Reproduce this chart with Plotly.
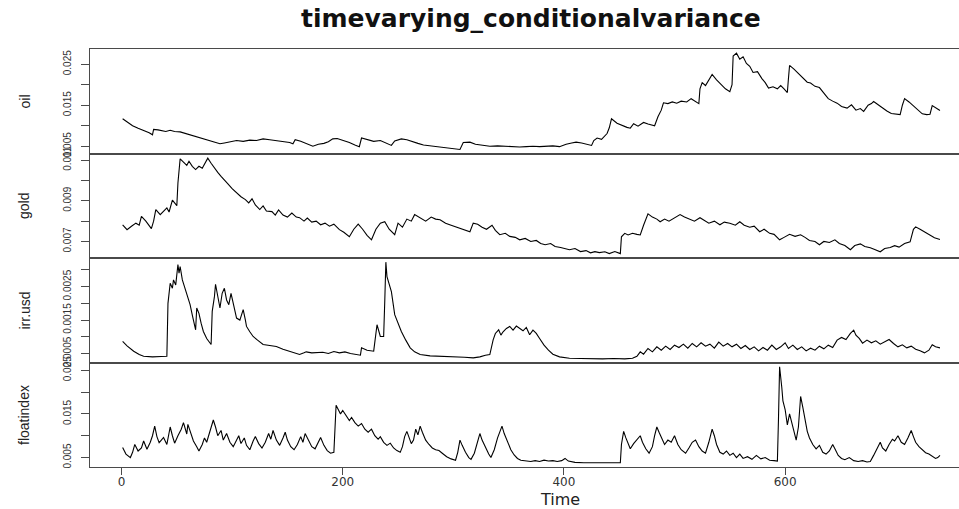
import plotly.graph_objects as go
from plotly.subplots import make_subplots

# ---------------- data (time, value) ----------------
oil = [(1, 0.0117), (5, 0.0110), (10, 0.0100), (15, 0.0094), (20, 0.0089), (25, 0.0083), (28, 0.0078),
       (29, 0.0091), (33, 0.0090), (37, 0.0088), (40, 0.0086), (44, 0.0089), (48, 0.0086), (53, 0.0085),
       (58, 0.0081), (64, 0.0076), (71, 0.0070), (78, 0.0065), (84, 0.0060), (89, 0.0056), (93, 0.0058),
       (97, 0.0060), (101, 0.0061), (104, 0.0064), (110, 0.0062), (116, 0.0065), (122, 0.0064), (128, 0.0068),
       (134, 0.0066), (140, 0.0064), (146, 0.0062), (152, 0.0059), (155, 0.0056), (157, 0.0066), (162, 0.0062),
       (168, 0.0055), (173, 0.0050), (178, 0.0055), (183, 0.0057), (187, 0.0061), (191, 0.0068), (195, 0.0069),
       (200, 0.0065), (206, 0.0059), (211, 0.0053), (215, 0.0049), (217, 0.0070), (222, 0.0067), (228, 0.0062),
       (234, 0.0064), (239, 0.0058), (244, 0.0052), (247, 0.0063), (253, 0.0068), (258, 0.0066), (263, 0.0061),
       (268, 0.0057), (273, 0.0053), (280, 0.0051), (287, 0.0049), (294, 0.0047), (300, 0.0045), (306, 0.0042),
       (309, 0.0059), (315, 0.0060), (320, 0.0055), (326, 0.0053), (333, 0.0050), (340, 0.0051), (347, 0.0050),
       (354, 0.0049), (360, 0.0048), (366, 0.0049), (372, 0.0050), (378, 0.0049), (384, 0.0050), (390, 0.0051),
       (396, 0.0049), (402, 0.0055), (407, 0.0058), (411, 0.0060), (416, 0.0058), (421, 0.0054), (425, 0.0052),
       (427, 0.0064), (430, 0.0070), (434, 0.0067), (439, 0.0081), (441, 0.0095), (443, 0.0117), (448, 0.0106),
       (453, 0.0100), (457, 0.0096), (460, 0.0094), (463, 0.0105), (467, 0.0099), (472, 0.0108), (476, 0.0104),
       (479, 0.0102), (482, 0.0100), (485, 0.0122), (488, 0.0138), (490, 0.0156), (494, 0.0154), (498, 0.0158),
       (502, 0.0155), (506, 0.0160), (511, 0.0158), (515, 0.0166), (518, 0.0160), (522, 0.0154), (523, 0.0190),
       (525, 0.0205), (528, 0.0198), (531, 0.0212), (534, 0.0225), (538, 0.0212), (542, 0.0200), (546, 0.0190),
       (550, 0.0183), (552, 0.0200), (553, 0.0270), (556, 0.0277), (559, 0.0262), (562, 0.0268), (565, 0.0252),
       (568, 0.0245), (571, 0.0230), (575, 0.0232), (579, 0.0215), (582, 0.0205), (585, 0.0192), (589, 0.0195),
       (593, 0.0190), (596, 0.0198), (599, 0.0190), (602, 0.0181), (603, 0.0215), (604, 0.0247), (608, 0.0238),
       (612, 0.0228), (616, 0.0218), (620, 0.0206), (623, 0.0204), (627, 0.0196), (631, 0.0193), (635, 0.0180),
       (639, 0.0166), (643, 0.0160), (647, 0.0155), (651, 0.0147), (656, 0.0143), (660, 0.0151), (664, 0.0138),
       (668, 0.0142), (671, 0.0135), (675, 0.0150), (678, 0.0154), (680, 0.0159), (684, 0.0151), (688, 0.0143),
       (692, 0.0136), (696, 0.0130), (700, 0.0129), (704, 0.0127), (706, 0.0150), (708, 0.0166), (712, 0.0158),
       (716, 0.0148), (720, 0.0138), (724, 0.0129), (728, 0.0127), (731, 0.0128), (733, 0.0149), (735, 0.0145),
       (738, 0.0139), (740, 0.0137)]

gold = [(1, 0.00782), (5, 0.00758), (9, 0.00775), (13, 0.00790), (16, 0.00780), (18, 0.00823), (22, 0.00800),
        (27, 0.00763), (29, 0.00800), (31, 0.00857), (35, 0.00832), (38, 0.00850), (41, 0.00865), (43, 0.00845),
        (46, 0.00903), (50, 0.00876), (51, 0.00988), (53, 0.01107), (56, 0.01090), (59, 0.01075), (61, 0.01095),
        (64, 0.01070), (67, 0.01054), (70, 0.01070), (73, 0.01060), (76, 0.01095), (78, 0.01110), (81, 0.01085),
        (84, 0.01060), (87, 0.01040), (90, 0.01020), (93, 0.01005), (96, 0.00985), (100, 0.00960), (104, 0.00940),
        (108, 0.00920), (112, 0.00906), (115, 0.00890), (118, 0.00910), (121, 0.00880), (125, 0.00857),
        (128, 0.00875), (131, 0.00850), (136, 0.00847), (139, 0.00830), (142, 0.00855), (146, 0.00830),
        (150, 0.00820), (154, 0.00840), (158, 0.00820), (161, 0.00817), (165, 0.00800), (168, 0.00815),
        (172, 0.00795), (176, 0.00800), (180, 0.00782), (184, 0.00790), (188, 0.00775), (192, 0.00785),
        (197, 0.00758), (201, 0.00745), (206, 0.00723), (210, 0.00760), (214, 0.00785), (218, 0.00760),
        (222, 0.00730), (226, 0.00708), (230, 0.00760), (234, 0.00790), (238, 0.00797), (242, 0.00760),
        (247, 0.00733), (250, 0.00790), (254, 0.00770), (258, 0.00810), (262, 0.00800), (265, 0.00832),
        (270, 0.00815), (275, 0.00800), (280, 0.00820), (284, 0.00810), (288, 0.00807), (293, 0.00790),
        (298, 0.00780), (303, 0.00770), (308, 0.00760), (312, 0.00755), (315, 0.00748), (318, 0.00790),
        (322, 0.00785), (326, 0.00770), (330, 0.00760), (335, 0.00780), (338, 0.00755), (342, 0.00733),
        (347, 0.00740), (351, 0.00725), (356, 0.00720), (360, 0.00708), (365, 0.00715), (370, 0.00700),
        (375, 0.00705), (379, 0.00690), (383, 0.00684), (388, 0.00690), (392, 0.00675), (397, 0.00670),
        (401, 0.00665), (405, 0.00659), (410, 0.00665), (415, 0.00650), (420, 0.00655), (424, 0.00644),
        (428, 0.00650), (432, 0.00645), (437, 0.00649), (441, 0.00640), (446, 0.00650), (451, 0.00640),
        (452, 0.00723), (455, 0.00740), (458, 0.00732), (462, 0.00740), (466, 0.00735), (469, 0.00732),
        (472, 0.00780), (476, 0.00836), (480, 0.00820), (484, 0.00810), (487, 0.00797), (491, 0.00810),
        (495, 0.00800), (500, 0.00815), (505, 0.00832), (509, 0.00820), (514, 0.00810), (518, 0.00800),
        (523, 0.00817), (527, 0.00805), (531, 0.00790), (536, 0.00800), (541, 0.00782), (545, 0.00795),
        (550, 0.00790), (555, 0.00780), (559, 0.00797), (563, 0.00780), (568, 0.00770), (572, 0.00775),
        (577, 0.00748), (581, 0.00760), (586, 0.00740), (590, 0.00735), (595, 0.00708), (599, 0.00720),
        (604, 0.00735), (609, 0.00725), (614, 0.00733), (618, 0.00720), (622, 0.00705), (627, 0.00700),
        (631, 0.00684), (635, 0.00700), (640, 0.00695), (645, 0.00708), (649, 0.00690), (654, 0.00680),
        (659, 0.00659), (663, 0.00680), (668, 0.00688), (672, 0.00675), (677, 0.00669), (681, 0.00660),
        (686, 0.00649), (690, 0.00665), (695, 0.00670), (699, 0.00679), (703, 0.00672), (708, 0.00690),
        (713, 0.00698), (716, 0.00760), (718, 0.00772), (722, 0.00760), (727, 0.00743), (731, 0.00730),
        (735, 0.00718), (740, 0.00710)]

irr_usd = [(1, 0.00086), (5, 0.00073), (11, 0.00057), (16, 0.00047), (20, 0.00042), (28, 0.00040), (36, 0.00041),
           (41, 0.00042), (42, 0.00200), (44, 0.00260), (46, 0.00245), (47, 0.00270), (49, 0.00255), (51, 0.00316),
           (52, 0.00290), (53, 0.00310), (55, 0.00270), (57, 0.00250), (59, 0.00225), (62, 0.00196), (64, 0.00165),
           (67, 0.00121), (68, 0.00186), (70, 0.00170), (72, 0.00140), (74, 0.00116), (77, 0.00095), (81, 0.00077),
           (82, 0.00176), (84, 0.00220), (85, 0.00257), (87, 0.00215), (89, 0.00186), (91, 0.00230), (93, 0.00245),
           (95, 0.00210), (97, 0.00196), (99, 0.00230), (101, 0.00200), (104, 0.00156), (107, 0.00150),
           (110, 0.00181), (112, 0.00150), (113, 0.00131), (116, 0.00115), (119, 0.00101), (123, 0.00090),
           (128, 0.00077), (134, 0.00074), (140, 0.00071), (146, 0.00063), (152, 0.00057), (156, 0.00052),
           (161, 0.00047), (165, 0.00052), (167, 0.00055), (172, 0.00052), (177, 0.00054), (182, 0.00054),
           (187, 0.00050), (192, 0.00056), (197, 0.00052), (202, 0.00055), (207, 0.00050), (212, 0.00048),
           (216, 0.00045), (217, 0.00067), (222, 0.00060), (228, 0.00057), (231, 0.00136), (234, 0.00101),
           (237, 0.00101), (238, 0.00205), (239, 0.00323), (240, 0.00280), (242, 0.00260), (244, 0.00235),
           (247, 0.00166), (250, 0.00140), (253, 0.00116), (257, 0.00090), (261, 0.00067), (265, 0.00055),
           (270, 0.00047), (279, 0.00043), (288, 0.00042), (296, 0.00040), (303, 0.00041), (310, 0.00039),
           (318, 0.00037), (324, 0.00040), (329, 0.00045), (333, 0.00047), (336, 0.00091), (338, 0.00110),
           (341, 0.00121), (343, 0.00105), (345, 0.00115), (348, 0.00125), (351, 0.00131), (354, 0.00120),
           (357, 0.00132), (360, 0.00126), (363, 0.00118), (366, 0.00128), (369, 0.00106), (372, 0.00120),
           (375, 0.00110), (378, 0.00095), (382, 0.00075), (386, 0.00060), (390, 0.00048), (396, 0.00040),
           (405, 0.00036), (415, 0.00035), (425, 0.00034), (435, 0.00034), (445, 0.00035), (455, 0.00034),
           (462, 0.00036), (466, 0.00042), (469, 0.00055), (472, 0.00048), (476, 0.00065), (480, 0.00055),
           (484, 0.00070), (488, 0.00060), (492, 0.00072), (496, 0.00062), (500, 0.00075), (504, 0.00068),
           (508, 0.00078), (512, 0.00066), (516, 0.00080), (520, 0.00070), (524, 0.00082), (528, 0.00072),
           (532, 0.00078), (536, 0.00066), (540, 0.00084), (544, 0.00072), (548, 0.00080), (552, 0.00070),
           (556, 0.00078), (560, 0.00065), (564, 0.00074), (568, 0.00062), (572, 0.00070), (576, 0.00058),
           (580, 0.00068), (584, 0.00060), (588, 0.00075), (592, 0.00062), (596, 0.00070), (600, 0.00082),
           (603, 0.00065), (607, 0.00075), (611, 0.00062), (615, 0.00070), (619, 0.00058), (623, 0.00066),
           (627, 0.00060), (631, 0.00072), (635, 0.00064), (639, 0.00075), (643, 0.00068), (647, 0.00090),
           (651, 0.00098), (655, 0.00092), (659, 0.00110), (662, 0.00120), (664, 0.00105), (667, 0.00095),
           (670, 0.00081), (674, 0.00090), (678, 0.00082), (682, 0.00088), (686, 0.00078), (690, 0.00085),
           (694, 0.00092), (698, 0.00080), (702, 0.00070), (706, 0.00076), (710, 0.00067), (714, 0.00072),
           (718, 0.00063), (722, 0.00058), (726, 0.00052), (730, 0.00060), (733, 0.00076), (736, 0.00070),
           (740, 0.00067)]

floatindex = [(1, 0.0073), (4, 0.0058), (8, 0.0050), (10, 0.0062), (12, 0.0080), (15, 0.0065), (18, 0.0072),
              (20, 0.0088), (23, 0.0069), (26, 0.0085), (28, 0.0100), (30, 0.0122), (32, 0.0098), (34, 0.0084),
              (36, 0.0090), (38, 0.0096), (41, 0.0080), (44, 0.0120), (46, 0.0100), (48, 0.0083), (51, 0.0100),
              (54, 0.0115), (56, 0.0130), (59, 0.0104), (60, 0.0126), (63, 0.0105), (65, 0.0088), (68, 0.0075),
              (70, 0.0065), (73, 0.0080), (75, 0.0095), (77, 0.0085), (80, 0.0110), (83, 0.0136), (85, 0.0120),
              (87, 0.0100), (90, 0.0112), (92, 0.0090), (95, 0.0105), (98, 0.0085), (101, 0.0075), (104, 0.0090),
              (106, 0.0100), (108, 0.0082), (111, 0.0095), (113, 0.0078), (116, 0.0068), (119, 0.0088),
              (121, 0.0098), (124, 0.0082), (127, 0.0072), (130, 0.0085), (133, 0.0105), (135, 0.0092),
              (137, 0.0112), (140, 0.0090), (143, 0.0078), (146, 0.0095), (148, 0.0108), (150, 0.0090),
              (153, 0.0075), (156, 0.0068), (159, 0.0080), (162, 0.0098), (164, 0.0085), (166, 0.0105),
              (169, 0.0088), (172, 0.0075), (175, 0.0070), (177, 0.0082), (180, 0.0096), (183, 0.0078),
              (186, 0.0066), (189, 0.0060), (192, 0.0062), (194, 0.0170), (196, 0.0158), (198, 0.0150),
              (200, 0.0158), (203, 0.0145), (206, 0.0135), (208, 0.0142), (211, 0.0130), (214, 0.0122),
              (217, 0.0128), (220, 0.0115), (223, 0.0108), (226, 0.0115), (229, 0.0100), (232, 0.0092),
              (234, 0.0098), (237, 0.0085), (240, 0.0078), (243, 0.0083), (246, 0.0072), (249, 0.0066),
              (252, 0.0062), (254, 0.0075), (256, 0.0098), (258, 0.0110), (260, 0.0095), (262, 0.0082),
              (264, 0.0090), (266, 0.0115), (268, 0.0102), (270, 0.0122), (272, 0.0108), (275, 0.0090),
              (278, 0.0080), (281, 0.0072), (284, 0.0068), (287, 0.0066), (290, 0.0060), (294, 0.0052),
              (298, 0.0047), (302, 0.0044), (304, 0.0062), (306, 0.0090), (308, 0.0078), (311, 0.0062),
              (314, 0.0050), (316, 0.0046), (319, 0.0060), (322, 0.0085), (324, 0.0105), (326, 0.0090),
              (329, 0.0072), (332, 0.0058), (334, 0.0050), (337, 0.0068), (340, 0.0095), (342, 0.0110),
              (344, 0.0122), (346, 0.0105), (349, 0.0085), (352, 0.0068), (355, 0.0056), (358, 0.0048),
              (361, 0.0044), (365, 0.0042), (370, 0.0041), (374, 0.0043), (378, 0.0041), (382, 0.0044),
              (386, 0.0042), (390, 0.0043), (394, 0.0041), (398, 0.0043), (401, 0.0048), (404, 0.0042),
              (410, 0.0039), (418, 0.0038), (426, 0.0038), (434, 0.0037), (442, 0.0037), (449, 0.0037),
              (451, 0.0038), (452, 0.0080), (454, 0.0110), (456, 0.0095), (458, 0.0080), (460, 0.0070),
              (463, 0.0082), (466, 0.0092), (469, 0.0100), (471, 0.0085), (474, 0.0070), (477, 0.0060),
              (480, 0.0075), (482, 0.0100), (484, 0.0120), (486, 0.0108), (488, 0.0095), (491, 0.0080),
              (494, 0.0090), (497, 0.0085), (500, 0.0100), (503, 0.0080), (506, 0.0068), (510, 0.0060),
              (513, 0.0072), (516, 0.0085), (519, 0.0090), (522, 0.0075), (525, 0.0065), (528, 0.0060),
              (531, 0.0085), (534, 0.0115), (536, 0.0100), (538, 0.0080), (541, 0.0062), (544, 0.0058),
              (547, 0.0065), (550, 0.0055), (553, 0.0060), (556, 0.0050), (559, 0.0058), (562, 0.0048),
              (566, 0.0052), (570, 0.0046), (574, 0.0055), (578, 0.0047), (582, 0.0050), (586, 0.0044),
              (590, 0.0043), (593, 0.0042), (594, 0.0140), (595, 0.0258), (597, 0.0210), (598, 0.0180),
              (600, 0.0160), (602, 0.0125), (604, 0.0150), (606, 0.0130), (608, 0.0110), (610, 0.0090),
              (612, 0.0120), (614, 0.0190), (616, 0.0165), (618, 0.0140), (620, 0.0110), (622, 0.0095),
              (625, 0.0080), (628, 0.0070), (631, 0.0078), (634, 0.0062), (637, 0.0058), (640, 0.0065),
              (643, 0.0080), (645, 0.0070), (648, 0.0055), (651, 0.0048), (654, 0.0045), (658, 0.0050),
              (662, 0.0043), (666, 0.0041), (670, 0.0043), (674, 0.0040), (677, 0.0041), (680, 0.0055),
              (683, 0.0070), (686, 0.0085), (688, 0.0072), (691, 0.0065), (694, 0.0080), (697, 0.0092),
              (699, 0.0088), (702, 0.0100), (705, 0.0085), (708, 0.0080), (711, 0.0095), (714, 0.0112),
              (716, 0.0098), (718, 0.0085), (721, 0.0075), (724, 0.0068), (727, 0.0061), (730, 0.0058),
              (733, 0.0052), (736, 0.0048), (738, 0.0050), (740, 0.0055)]

series_names = ["oil", "gold", "irr.usd", "floatindex"]
x_ticks = [0, 200, 400, 600]
oil_ticks = [0.005, 0.010, 0.015, 0.020, 0.025]
oil_labels = ["0.005", "", "0.015", "", "0.025"]
gold_ticks = [0.007, 0.008, 0.009, 0.010, 0.011]
gold_labels = ["0.007", "", "0.009", "", "0.011"]
irr_ticks = [0.0005, 0.0010, 0.0015, 0.0020, 0.0025, 0.0030]
irr_labels = ["0.0005", "", "0.0015", "", "0.0025", ""]
float_ticks = [0.005, 0.010, 0.015, 0.020, 0.025]
float_labels = ["0.005", "", "0.015", "", "0.025"]
title_text = "timevarying_conditionalvariance"
x_title = "Time"

# ---------------- figure ----------------
all_series = [oil, gold, irr_usd, floatindex]
y_ranges = [[0.00323, 0.02871], [0.006185, 0.01133], [0.000232, 0.003354], [0.00284, 0.02677]]
tick_sets = [(oil_ticks, oil_labels), (gold_ticks, gold_labels),
             (irr_ticks, irr_labels), (float_ticks, float_labels)]

fig = make_subplots(rows=4, cols=1, shared_xaxes=True, vertical_spacing=0)

frame_col = "#4a4a4a"
for i, s in enumerate(all_series):
    t = [p[0] for p in s]
    v = [p[1] for p in s]
    fig.add_trace(go.Scatter(x=t, y=v, mode="lines", line=dict(color="black", width=1.1),
                             showlegend=False, hoverinfo="skip"), row=i + 1, col=1)
    tv, tt = tick_sets[i]
    fig.update_yaxes(range=y_ranges[i], tickvals=tv, ticktext=tt, ticks="outside", ticklen=8,
                     tickcolor=frame_col, tickwidth=1, tickangle=-90, ticklabelstandoff=6,
                     tickfont=dict(family="Liberation Sans, Arial, sans-serif", size=10, color="#333"),
                     showline=True, linecolor=frame_col, linewidth=1, mirror=False, automargin=False,
                     showgrid=False, zeroline=False, row=i + 1, col=1)
    fig.update_xaxes(range=[-28.5, 757.2], showline=True, mirror=True, linecolor=frame_col,
                     linewidth=1, showgrid=False, zeroline=False, automargin=False, row=i + 1, col=1)

fig.update_xaxes(tickvals=x_ticks, ticks="outside", ticklen=7, tickcolor=frame_col,
                 ticklabelstandoff=-3,
                 tickfont=dict(family="DejaVu Sans, sans-serif", size=12, color="#333"),
                 showticklabels=True, row=4, col=1)

L, T, B = 90, 49, 42
H = 509
plot_h = H - T - B
plot_w = 959 - L


def px_x(x):
    return (x - L) / plot_w


def px_y(y):
    return (H - B - y) / plot_h


annotations = []
centers = [101.5, 206, 310.5, 415]
for name, cy in zip(series_names, centers):
    annotations.append(dict(text=name, x=px_x(24), y=px_y(cy), xref="paper", yref="paper",
                            showarrow=False, textangle=-90, xanchor="center", yanchor="middle",
                            font=dict(family="Liberation Sans, Arial, sans-serif", size=14, color="#222")))
annotations.append(dict(text="<b>" + title_text + "</b>", x=px_x(531), y=px_y(19), xref="paper",
                        yref="paper", showarrow=False, xanchor="center", yanchor="middle",
                        font=dict(family="DejaVu Sans, sans-serif", size=25, color="#111")))
annotations.append(dict(text=x_title, x=px_x(560), y=px_y(499), xref="paper", yref="paper",
                        showarrow=False, xanchor="center", yanchor="middle",
                        font=dict(family="DejaVu Sans, sans-serif", size=16, color="#222")))

fig.update_layout(width=959, height=509, margin=dict(l=L, r=0, t=T, b=B, autoexpand=False),
                  paper_bgcolor="white", plot_bgcolor="white", annotations=annotations,
                  showlegend=False)

fig.write_html("out.html", config={"displayModeBar": False},
               post_script="document.body.style.margin='0';document.body.style.overflow='hidden';")
